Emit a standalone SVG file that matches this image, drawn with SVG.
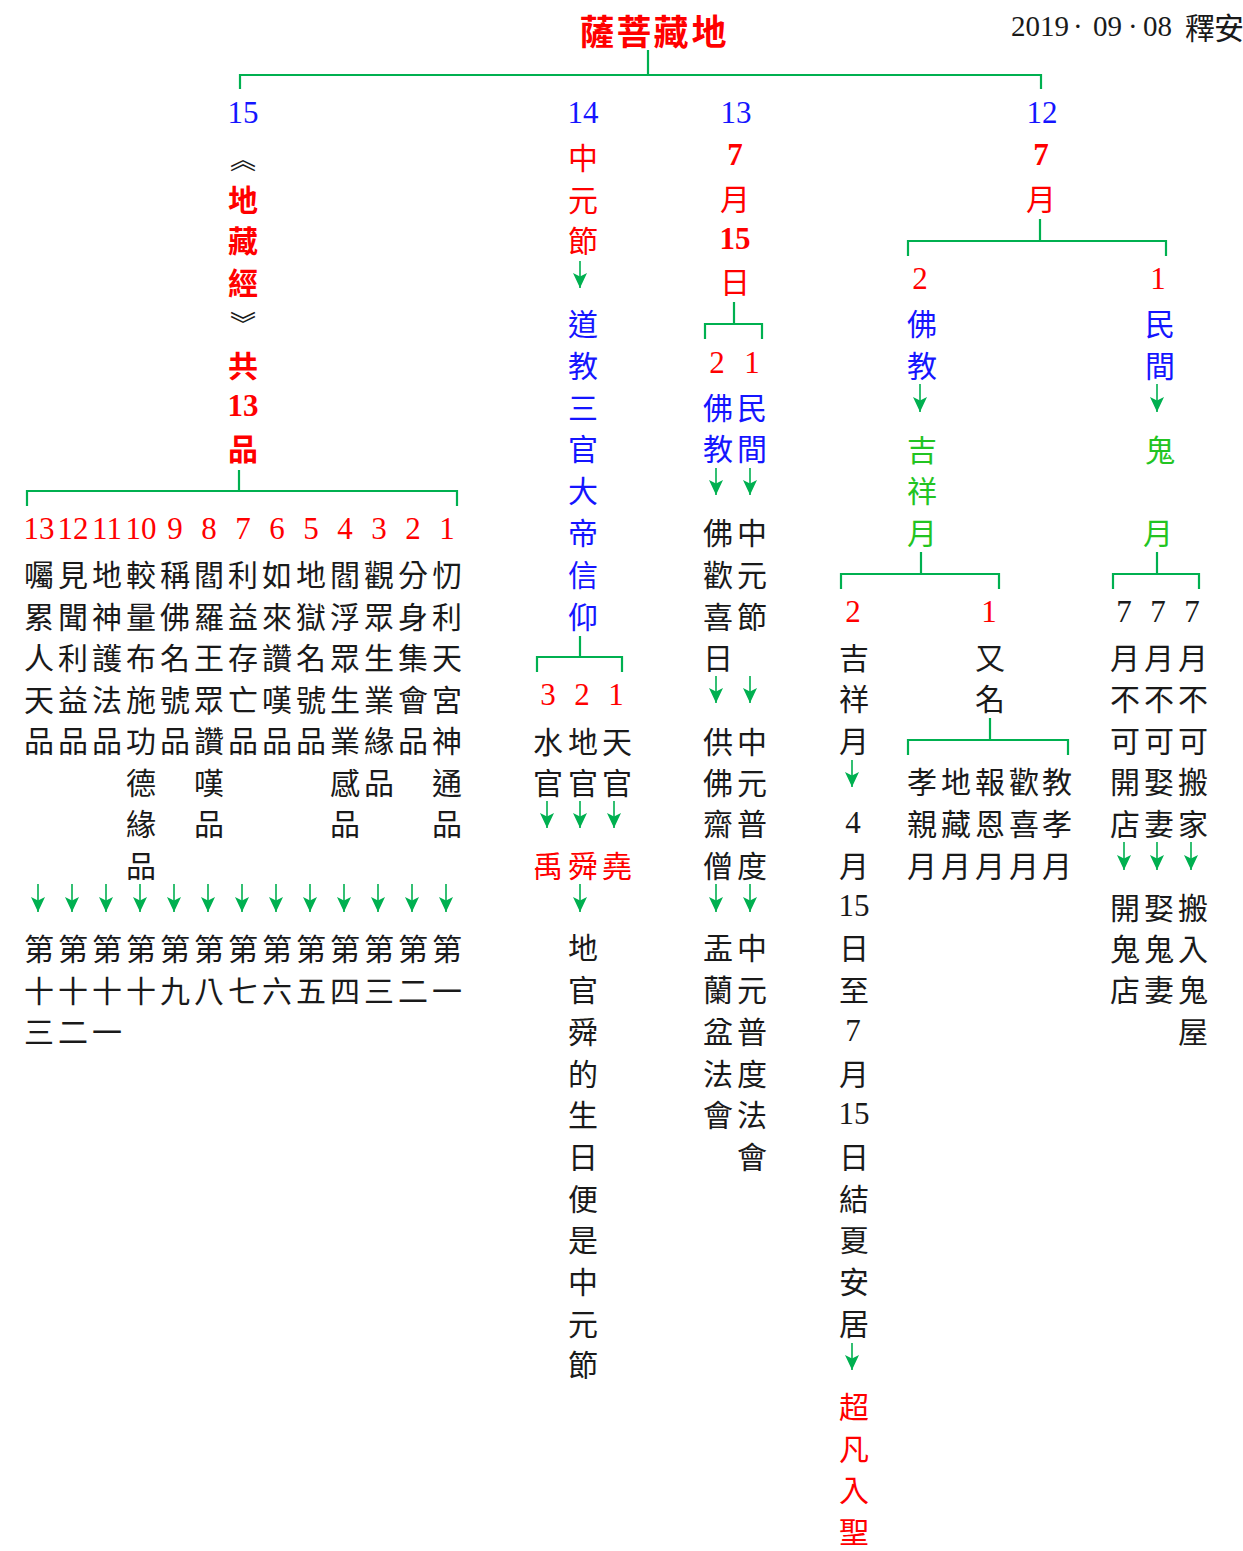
<svg xmlns="http://www.w3.org/2000/svg" width="1243" height="1551" viewBox="0 0 1243 1551">
<style>
.t{font-family:"Noto Sans CJK TC","Noto Sans CJK SC",sans-serif;font-size:30px;text-anchor:middle;dominant-baseline:central;fill:#1a1a1a}
.d{font-family:"Liberation Serif","Noto Sans CJK TC",serif;font-size:31px;text-anchor:middle;dominant-baseline:central;fill:#1a1a1a}
.r{fill:#ff0000}.bl{fill:#1515ff}.g{fill:#22c422}.bd{font-weight:bold}
.c{stroke:#00b050;stroke-width:2.2;fill:none}
.a{stroke:#00b050;stroke-width:1.6;fill:none;marker-end:url(#ah)}
</style>
<defs>
<marker id="ah" markerUnits="userSpaceOnUse" markerWidth="16" markerHeight="16" viewBox="-16 -8 16 16" refX="0" refY="0" orient="auto">
<path d="M0,0 L-15,-7 L-11.5,0 L-15,7 Z" fill="#00b050"/>
</marker>
</defs>
<rect width="1243" height="1551" fill="#ffffff"/>

<g id="connectors">
<path class="c" d="M648,50 V75 M240,89 V75 H1041 V89"/>
<path class="c" d="M239,470 V491 M27,506 V491 H457 V506"/>
<path class="c" d="M580,636 V657 M537,672 V657 H622 V672"/>
<path class="c" d="M734,302 V324 M705,339 V324 H762 V339"/>
<path class="c" d="M1040,219 V241 M908,256 V241 H1166 V256"/>
<path class="c" d="M921,552 V574 M841,589 V574 H999 V589"/>
<path class="c" d="M990,718 V740 M908,755 V740 H1068 V755"/>
<path class="c" d="M1157,552 V574 M1113,589 V574 H1199 V589"/>
<path class="a" d="M38,884 V912"/><path class="a" d="M72,884 V912"/><path class="a" d="M106,884 V912"/><path class="a" d="M140,884 V912"/><path class="a" d="M174,884 V912"/><path class="a" d="M208,884 V912"/><path class="a" d="M242,884 V912"/><path class="a" d="M276,884 V912"/><path class="a" d="M310,884 V912"/><path class="a" d="M344,884 V912"/><path class="a" d="M378,884 V912"/><path class="a" d="M412,884 V912"/><path class="a" d="M446,884 V912"/>
<path class="a" d="M580,261 V288"/>
<path class="a" d="M547,801 V828"/><path class="a" d="M580,801 V828"/><path class="a" d="M614,801 V828"/>
<path class="a" d="M580,884 V912"/>
<path class="a" d="M716,468 V495"/><path class="a" d="M750,468 V495"/>
<path class="a" d="M716,676 V703"/><path class="a" d="M750,676 V703"/>
<path class="a" d="M716,884 V912"/><path class="a" d="M750,884 V912"/>
<path class="a" d="M920,384 V412"/><path class="a" d="M1157,384 V412"/>
<path class="a" d="M852,760 V787"/>
<path class="a" d="M852,1343 V1370"/>
<path class="a" d="M1124,842 V870"/><path class="a" d="M1157,842 V870"/><path class="a" d="M1191,842 V870"/>
</g>

<g id="title">
<text class="t r bd" style="font-size:35px" x="597 634 671 709" y="29">薩菩藏地</text>
</g>

<g id="date">
<text class="d" style="text-anchor:start;font-size:29px" y="26"><tspan x="1011">2019</tspan><tspan x="1073">·</tspan><tspan x="1093">09</tspan><tspan x="1128">·</tspan><tspan x="1143">08</tspan></text>
<text class="t" style="font-size:30px" x="1200 1229" y="26">釋安</text>
</g>

<g id="n15">
<text class="d bl" x="243" y="112">15</text>
<text class="t" x="243" y="157" style="font-size:26px">︽</text>
<text class="t r bd" x="243 243 243" y="198 239 281">地藏經</text>
<text class="t" x="243" y="322" style="font-size:26px">︾</text>
<text class="t r bd" x="243" y="364">共</text>
<text class="d r bd" x="243" y="405">13</text>
<text class="t r bd" x="243" y="447">品</text>
</g>

<g id="n15-chapters">
<text class="d r" y="528"><tspan x="39">13</tspan><tspan x="73">12</tspan><tspan x="107">11</tspan><tspan x="141">10</tspan><tspan x="175">9</tspan><tspan x="209">8</tspan><tspan x="243">7</tspan><tspan x="277">6</tspan><tspan x="311">5</tspan><tspan x="345">4</tspan><tspan x="379">3</tspan><tspan x="413">2</tspan><tspan x="447">1</tspan></text>
<text class="t" x="39 73 107 141 175 209 243 277 311 345 379 413 447" y="573">囑見地較稱閻利如地閻觀分忉</text>
<text class="t" x="39 73 107 141 175 209 243 277 311 345 379 413 447" y="615">累聞神量佛羅益來獄浮眾身利</text>
<text class="t" x="39 73 107 141 175 209 243 277 311 345 379 413 447" y="656">人利護布名王存讚名眾生集天</text>
<text class="t" x="39 73 107 141 175 209 243 277 311 345 379 413 447" y="698">天益法施號眾亡嘆號生業會宮</text>
<text class="t" x="39 73 107 141 175 209 243 277 311 345 379 413 447" y="739">品品品功品讚品品品業緣品神</text>
<text class="t" x="141 209 345 379 447" y="781">德嘆感品通</text>
<text class="t" x="141 209 345 447" y="822">緣品品品</text>
<text class="t" x="141" y="864">品</text>
<text class="t" x="39 73 107 141 175 209 243 277 311 345 379 413 447" y="947">第第第第第第第第第第第第第</text>
<text class="t" x="39 73 107 141 175 209 243 277 311 345 379 413 447" y="989">十十十十九八七六五四三二一</text>
<text class="t" x="39 73 107" y="1030">三二一</text>
</g>

<g id="n14">
<text class="d bl" x="583" y="112">14</text>
<text class="t r" x="583 583 583" y="156 198 239">中元節</text>
<text class="t bl" x="583 583 583 583 583 583 583 583" y="322 364 406 447 489 531 573 615">道教三官大帝信仰</text>
<text class="d r" y="694"><tspan x="548">3</tspan><tspan x="582">2</tspan><tspan x="616">1</tspan></text>
<text class="t" x="548 583 617" y="740">水地天</text>
<text class="t" x="548 583 617" y="781">官官官</text>
<text class="t r" x="548 583 617" y="864">禹舜堯</text>
<text class="t" x="583 583 583 583 583 583 583 583 583 583 583" y="946 988 1030 1072 1113 1155 1197 1238 1280 1322 1363">地官舜的生日便是中元節</text>
</g>

<g id="n13">
<text class="d bl" x="736" y="112">13</text>
<text class="d r bd" x="735" y="154">7</text>
<text class="t r" x="735" y="197">月</text>
<text class="d r bd" x="735" y="238">15</text>
<text class="t r" x="735" y="280">日</text>
<text class="d r" y="362"><tspan x="717">2</tspan><tspan x="752">1</tspan></text>
<text class="t bl" x="718 752" y="406">佛民</text>
<text class="t bl" x="718 752" y="447">教間</text>
<text class="t" x="718 752" y="531">佛中</text>
<text class="t" x="718 752" y="573">歡元</text>
<text class="t" x="718 752" y="615">喜節</text>
<text class="t" x="718" y="656">日</text>
<text class="t" x="718 752" y="740">供中</text>
<text class="t" x="718 752" y="781">佛元</text>
<text class="t" x="718 752" y="822">齋普</text>
<text class="t" x="718 752" y="864">僧度</text>
<text class="t" x="718 752" y="946">盂中</text>
<text class="t" x="718 752" y="988">蘭元</text>
<text class="t" x="718 752" y="1030">盆普</text>
<text class="t" x="718 752" y="1072">法度</text>
<text class="t" x="718 752" y="1113">會法</text>
<text class="t" x="752" y="1155">會</text>
</g>

<g id="n12">
<text class="d bl" x="1042" y="112">12</text>
<text class="d r bd" x="1041" y="154">7</text>
<text class="t r" x="1041" y="197">月</text>
</g>

<g id="n12-2">
<text class="d r" x="920" y="278">2</text>
<text class="t bl" x="922 922" y="322 364">佛教</text>
<text class="t g" x="922 922 922" y="448 489 531">吉祥月</text>
</g>

<g id="n12-2-2">
<text class="d r" x="853" y="611">2</text>
<text class="t" x="854 854 854" y="656 697 739">吉祥月</text>
<text class="d" x="853" y="822">4</text>
<text class="t" x="854" y="864">月</text>
<text class="d" x="854" y="905">15</text>
<text class="t" x="854 854" y="946 988">日至</text>
<text class="d" x="853" y="1030">7</text>
<text class="t" x="854" y="1072">月</text>
<text class="d" x="854" y="1113">15</text>
<text class="t" x="854 854 854 854 854" y="1155 1197 1238 1280 1322">日結夏安居</text>
<text class="t r" x="854 854 854 854" y="1405 1447 1488 1530">超凡入聖</text>
</g>

<g id="n12-2-1">
<text class="d r" x="989" y="611">1</text>
<text class="t" x="990 990" y="656 697">又名</text>
<text class="t" x="922 956 990 1024 1057" y="780">孝地報歡教</text>
<text class="t" x="922 956 990 1024 1057" y="822">親藏恩喜孝</text>
<text class="t" x="922 956 990 1024 1057" y="864">月月月月月</text>
</g>

<g id="n12-1">
<text class="d r" x="1158" y="278">1</text>
<text class="t bl" x="1160 1160" y="322 364">民間</text>
<text class="t g" x="1160" y="448">鬼</text>
<text class="t g" x="1158" y="531">月</text>
</g>

<g id="n12-1-sub">
<text class="d" y="611"><tspan x="1124">7</tspan><tspan x="1158">7</tspan><tspan x="1192">7</tspan></text>
<text class="t" x="1125 1159 1193" y="656">月月月</text>
<text class="t" x="1125 1159 1193" y="697">不不不</text>
<text class="t" x="1125 1159 1193" y="739">可可可</text>
<text class="t" x="1125 1159 1193" y="780">開娶搬</text>
<text class="t" x="1125 1159 1193" y="822">店妻家</text>
<text class="t" x="1125 1159 1193" y="906">開娶搬</text>
<text class="t" x="1125 1159 1193" y="947">鬼鬼入</text>
<text class="t" x="1125 1159 1193" y="988">店妻鬼</text>
<text class="t" x="1193" y="1030">屋</text>
</g>
</svg>
